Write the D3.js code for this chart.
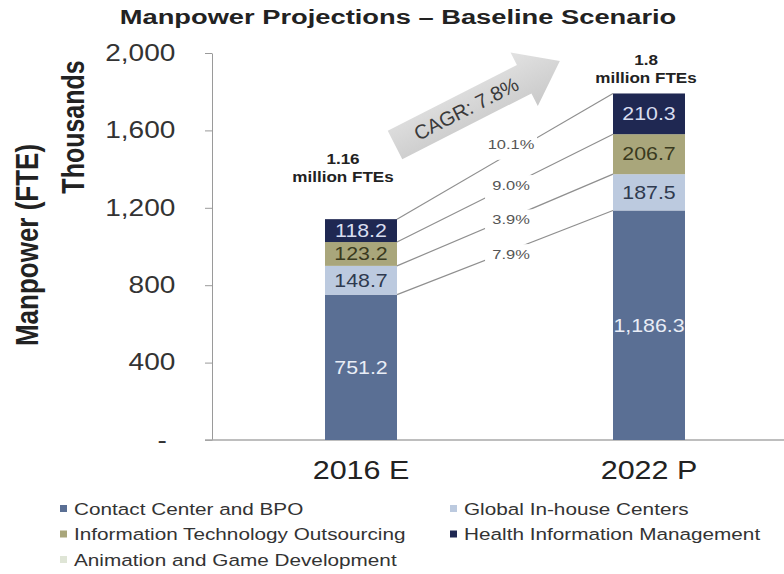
<!DOCTYPE html>
<html>
<head>
<meta charset="utf-8">
<script src="https://cdn.jsdelivr.net/npm/d3@7"></script>
<style>
  body { margin: 0; background: #fff; }
  svg { display: block; font-family: "Liberation Sans", Arial, sans-serif; }
</style>
</head>
<body>
<script>
// values (thousands of FTEs)
var years = ["2016 E", "2022 P"];
var segmentNames = ["Contact Center and BPO", "Global In-house Centers",
  "Information Technology Outsourcing", "Health Information Management",
  "Animation and Game Development"];
var contactCenter = [751.2, 1186.3];
var globalInHouse = [148.7, 187.5];
var itOutsourcing = [123.2, 206.7];
var healthInfo = [118.2, 210.3];
var animation = [0, 0]; // in legend only, nothing visible in the bars
var segmentCagr = ["7.9%", "3.9%", "9.0%", "10.1%"]; // cc, gic, ito, him
var totalLabels = ["1.16", "1.8"];
var overallCagr = "CAGR: 7.8%";
var yTicks = [0, 400, 800, 1200, 1600, 2000];

var keys = ["cc", "gic", "ito", "him", "agd"];
var colors = ["#5a6f94", "#bccadf", "#a9a67b", "#1f2852", "#dfe5d6"];
var labelColors = ["#e9edf6", "#2f3a4f", "#3a3a1e", "#d9def0", "#333"];

// the source picture is stretched sideways, so text gets the same stretch
var SX = 1.22;

var svg = d3.select("body").append("svg")
  .attr("width", 784)
  .attr("height", 574);

var table = years.map(function(yr, i) {
  return { year: yr, cc: contactCenter[i], gic: globalInHouse[i],
    ito: itOutsourcing[i], him: healthInfo[i], agd: animation[i] };
});
var stacked = d3.stack().keys(keys)(table);

var y = d3.scaleLinear().domain([0, 2000]).range([440, 53]);
var x = d3.scaleBand().domain(years).range([217, 793])
  .paddingInner(0.75).paddingOuter(0.375);
var bw = x.bandwidth();

// helper: text placed at (px,py) with the sideways stretch
var stretched = function(parent, px, py, str, extra) {
  return parent.append("text")
    .attr("transform", "translate(" + px + "," + py + ") scale(" + SX + ",1)" + (extra || ""))
    .text(str);
};

// title
svg.append("text")
  .attr("transform", "translate(398,24) scale(1.3,1)")
  .attr("text-anchor", "middle")
  .style("font-size", "21px")
  .style("font-weight", "bold")
  .attr("fill", "#222")
  .text("Manpower Projections \u2013 Baseline Scenario");

// y axis
var yAxis = d3.axisLeft(y)
  .tickValues(yTicks)
  .tickSize(7)
  .tickSizeOuter(0)
  .tickFormat(function(d) { return d === 0 ? "-" : d3.format(",")(d); });

var yGroup = svg.append("g").attr("transform", "translate(212,0)").call(yAxis);
yGroup.select(".domain").attr("stroke", "#9a9a9a");
yGroup.selectAll(".tick line").attr("stroke", "#9a9a9a");
yGroup.selectAll(".tick text")
  .attr("x", function(d) { return d === 0 ? -37 : -30; })
  .attr("transform", "scale(" + SX + ",1)")
  .attr("fill", "#333")
  .style("font-size", "23px")
  .style("font-family", "inherit");

// y titles
stretched(svg, 27, 245, "Manpower (FTE)", " rotate(-90)")
  .attr("text-anchor", "middle").attr("dy", "0.35em")
  .style("font-size", "26px").style("font-weight", "bold").attr("fill", "#222");
stretched(svg, 73, 127, "Thousands", " rotate(-90)")
  .attr("text-anchor", "middle").attr("dy", "0.35em")
  .style("font-size", "25px").style("font-weight", "bold").attr("fill", "#222");

// x axis baseline + labels
svg.append("line")
  .attr("x1", 205).attr("x2", 784)
  .attr("y1", y(0)).attr("y2", y(0))
  .attr("stroke", "#a8a8a8").attr("stroke-width", 1.5);

var xAxis = d3.axisBottom(x).tickSize(0).tickPadding(21);
var xGroup = svg.append("g").attr("transform", "translate(0," + y(0) + ")").call(xAxis);
xGroup.select(".domain").remove();
xGroup.selectAll(".tick text")
  .attr("transform", "scale(" + SX + ",1)")
  .attr("fill", "#222")
  .style("font-size", "25px")
  .style("font-family", "inherit");

// CAGR arrow behind everything else in the plot
var defs = svg.append("defs");
var grad = defs.append("linearGradient").attr("id", "arrowFill")
  .attr("x1", 0).attr("y1", 0).attr("x2", 0).attr("y2", 1);
grad.append("stop").attr("offset", "0%").attr("stop-color", "#e2e2e2");
grad.append("stop").attr("offset", "100%").attr("stop-color", "#c9c9c9");

var arrowStart = [395, 145], arrowAngle = -27;
var shaftHalf = 16, headHalf = 30, headLen = 40, arrowLen = 185;
var arrowPts = [
  [0, -shaftHalf], [arrowLen - headLen, -shaftHalf], [arrowLen - headLen, -headHalf],
  [arrowLen, 0], [arrowLen - headLen, headHalf], [arrowLen - headLen, shaftHalf], [0, shaftHalf]
];
var arrow = svg.append("g")
  .attr("transform", "translate(" + arrowStart[0] + "," + arrowStart[1] + ") rotate(" + arrowAngle + ")");
arrow.append("path")
  .attr("d", d3.line()(arrowPts) + "Z")
  .attr("fill", "url(#arrowFill)");
arrow.append("text")
  .attr("x", 80).attr("dy", "0.35em")
  .attr("text-anchor", "middle")
  .style("font-size", "20px")
  .attr("fill", "#3a3a3a")
  .text(overallCagr);

// stacked bars
var layers = svg.selectAll("g.layer")
  .data(stacked)
  .enter()
  .append("g")
  .attr("class", "layer")
  .attr("fill", function(d, i) { return colors[i]; });

layers.selectAll("rect")
  .data(function(d) { return d; })
  .enter()
  .append("rect")
  .attr("x", function(d) { return x(d.data.year); })
  .attr("y", function(d) { return y(d[1]); })
  .attr("width", bw)
  .attr("height", function(d) { return y(d[0]) - y(d[1]); });

// values inside the segments
stacked.forEach(function(layer, k) {
  layer.forEach(function(d) {
    var v = d[1] - d[0];
    if (v <= 0) return;
    stretched(svg, x(d.data.year) + bw / 2, (y(d[0]) + y(d[1])) / 2, d3.format(",.1f")(v))
      .attr("text-anchor", "middle")
      .attr("dy", "0.36em")
      .style("font-size", "17.5px")
      .attr("fill", labelColors[k]);
  });
});

// connector lines between segment tops, with the segment CAGR
var labelNudge = [4, 2, 0, -9];
var t = 0.528;
for (var k = 0; k < 4; k++) {
  var x1 = x(years[0]) + bw, y1 = y(stacked[k][0][1]);
  var x2 = x(years[1]), y2 = y(stacked[k][1][1]);
  svg.append("line")
    .attr("x1", x1).attr("y1", y1).attr("x2", x2).attr("y2", y2)
    .attr("stroke", "#8f8f8f").attr("stroke-width", 1.2);

  var lx = x1 + (x2 - x1) * t;
  var ly = y1 + (y2 - y1) * t + labelNudge[k];
  svg.append("rect")
    .attr("x", lx - 26).attr("y", ly - 10)
    .attr("width", 52).attr("height", 26)
    .attr("fill", "#fff");
  stretched(svg, lx, ly, segmentCagr[k])
    .attr("text-anchor", "middle")
    .attr("dy", "0.35em")
    .style("font-size", "13.5px")
    .attr("fill", "#555");
}

// totals above the bars
var totalOffsets = [{ dx: -18, dy: -55 }, { dx: -3, dy: -28 }];
years.forEach(function(yr, i) {
  var top = y(stacked[stacked.length - 1][i][1]);
  var cx = x(yr) + bw / 2 + totalOffsets[i].dx;
  var by = top + totalOffsets[i].dy;
  stretched(svg, cx, by, totalLabels[i])
    .attr("text-anchor", "middle")
    .style("font-size", "14px").style("font-weight", "bold").attr("fill", "#222");
  stretched(svg, cx, by + 18, "million FTEs")
    .attr("text-anchor", "middle")
    .style("font-size", "14px").style("font-weight", "bold").attr("fill", "#222");
});

// legend, two columns
var legend = svg.append("g");
segmentNames.forEach(function(name, i) {
  var col = i % 2, row = Math.floor(i / 2);
  var lx = col === 0 ? 60 : 450;
  var ly = 509 + row * 25.5;
  legend.append("rect")
    .attr("x", lx).attr("y", ly - 4)
    .attr("width", 7).attr("height", 7)
    .attr("fill", colors[i]);
  stretched(legend, lx + 14, ly, name)
    .attr("dy", "0.35em")
    .style("font-size", "17px")
    .attr("fill", "#333");
});
</script>
</body>
</html>
